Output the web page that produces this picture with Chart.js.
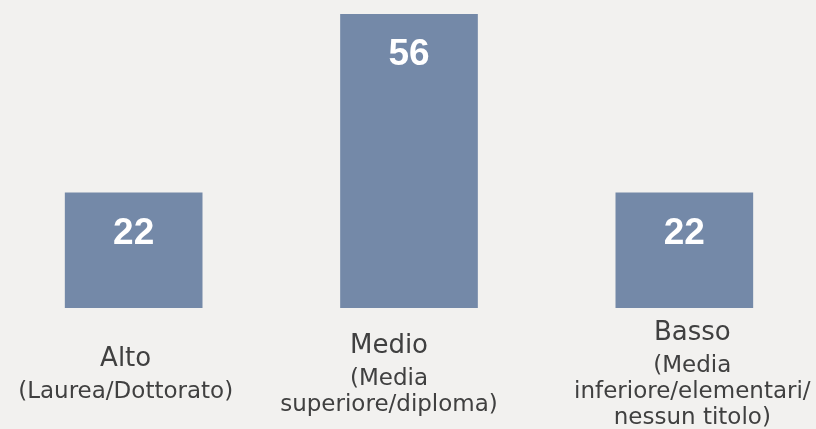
<!DOCTYPE html>
<html>
<head>
<meta charset="utf-8">
<script src="https://cdn.jsdelivr.net/npm/chart.js@4"></script>
<style>
  html, body { margin: 0; padding: 0; background: #f2f1ef; overflow: hidden; }
  #wrap { position: relative; width: 816px; height: 429px; }
  #educationChart { position: absolute; left: -4px; top: 0; }
</style>
</head>
<body>
<div id="wrap">
  <canvas id="educationChart" width="826" height="429"></canvas>
</div>
<script>
// Titolo di studio - distribuzione percentuale

const categories = ['Alto', 'Medio', 'Basso'];
const subtitles = [
  ['(Laurea/Dottorato)'],
  ['(Media', 'superiore/diploma)'],
  ['(Media', 'inferiore/elementari/', 'nessun titolo)']
];
const values = [22, 56, 22];

const barColor = '#7489a8';
const textColor = '#404040';

// value labels inside the bars + multi-line category labels under them
const labelPlugin = {
  id: 'labelPlugin',
  afterDatasetsDraw(chart, args, opts) {
    const ctx = chart.ctx;
    const meta = chart.getDatasetMeta(0);
    const xScale = chart.scales.x;
    const bottom = chart.chartArea.bottom;

    ctx.save();
    ctx.textAlign = 'center';

    meta.data.forEach((bar, i) => {
      ctx.fillStyle = '#ffffff';
      ctx.font = 'bold 37px "Liberation Sans", Arial, sans-serif';
      ctx.textBaseline = 'alphabetic';
      ctx.fillText(String(values[i]), bar.x, bar.y + 51);

      // the text boxes in the original slide are not exactly centred on the bars
      const x = xScale.getPixelForValue(i) + opts.shift[i];
      const lines = [categories[i]].concat(subtitles[i]);
      const span = 33 + 26 * (lines.length - 2);
      let y = bottom + 67.5 - span / 2;
      ctx.fillStyle = textColor;
      ctx.textBaseline = 'middle';
      lines.forEach((line, j) => {
        ctx.font = j === 0 ? '26px "DejaVu Sans", sans-serif' : '23px "DejaVu Sans", sans-serif';
        ctx.fillText(line, x, y);
        y += j === 0 ? 33 : 26;
      });
    });
    ctx.restore();
  }
};

new Chart(document.getElementById('educationChart'), {
  type: 'bar',
  data: {
    labels: categories,
    datasets: [{
      data: values,
      backgroundColor: barColor,
      borderWidth: 0,
      categoryPercentage: 1,
      barPercentage: 0.5
    }]
  },
  options: {
    responsive: false,
    animation: false,
    devicePixelRatio: 1,
    layout: {
      padding: { top: 14, bottom: 121, left: 0, right: 0 }
    },
    plugins: {
      legend: { display: false },
      tooltip: { enabled: false },
      labelPlugin: { shift: [-8, -20, 8] }
    },
    scales: {
      x: { display: false },
      y: { display: false, min: 0, max: 56 }
    }
  },
  plugins: [labelPlugin]
});
</script>
</body>
</html>
